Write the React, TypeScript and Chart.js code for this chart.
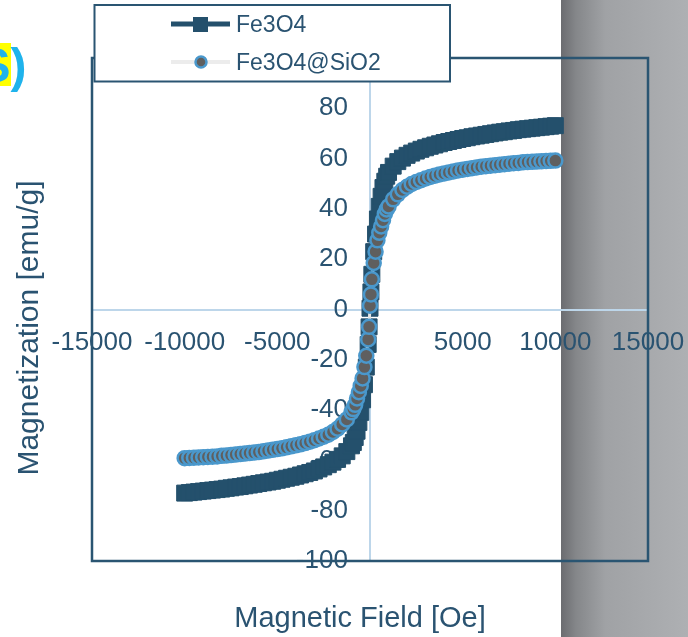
import React, { useEffect, useRef } from "react";
import { Chart, registerables } from "chart.js";

Chart.register(...registerables);

// ---------- data ----------
const fieldOe = [
  -10000, -9750, -9500, -9250, -9000, -8750, -8500, -8250, -8000, -7750,
  -7500, -7250, -7000, -6750, -6500, -6250, -6000, -5750, -5500, -5250,
  -5000, -4750, -4500, -4250, -4000, -3750, -3500, -3250, -3000, -2750,
  -2500, -2250, -2000, -1750, -1500, -1250, -1000, -900, -800, -700,
  -600, -500, -400, -300, -200, -100, -50,
  0,
  50, 100, 200, 300, 400, 500, 600, 700, 800, 900,
  1000, 1250, 1500, 1750, 2000, 2250, 2500, 2750, 3000, 3250,
  3500, 3750, 4000, 4250, 4500, 4750, 5000, 5250, 5500, 5750,
  6000, 6250, 6500, 6750, 7000, 7250, 7500, 7750, 8000, 8250,
  8500, 8750, 9000, 9250, 9500, 9750, 10000,
];

const fe3o4 = [
  -73.0, -72.8, -72.6, -72.4, -72.2, -72.0, -71.8, -71.6, -71.4, -71.1,
  -70.9, -70.6, -70.4, -70.1, -69.8, -69.5, -69.2, -68.9, -68.6, -68.3,
  -67.9, -67.5, -67.1, -66.7, -66.3, -65.8, -65.3, -64.8, -64.2, -63.4,
  -62.6, -61.7, -60.7, -59.6, -58.2, -56.5, -54.2, -52.9, -50.9, -48.4,
  -44.9, -40.9, -35.9, -29.9, -22.9, -13.9, -6.9,
  0.5,
  7, 14, 23, 30, 36, 41, 45, 48.5, 51, 53,
  54.5, 57, 58.8, 60.2, 61.3, 62.2, 63, 63.7, 64.3, 64.9,
  65.4, 65.9, 66.4, 66.8, 67.2, 67.6, 68, 68.3, 68.7, 69,
  69.3, 69.6, 69.9, 70.2, 70.5, 70.7, 71, 71.2, 71.5, 71.7,
  71.9, 72.1, 72.3, 72.5, 72.7, 72.9, 73.1,
];

const fe3o4SiO2 = [
  -59.1, -59.0, -58.9, -58.8, -58.7, -58.6, -58.5, -58.4, -58.2, -58.1,
  -57.9, -57.7, -57.5, -57.3, -57.1, -56.9, -56.7, -56.4, -56.1, -55.8,
  -55.5, -55.2, -54.8, -54.4, -54.0, -53.6, -53.1, -52.6, -52.0, -51.3,
  -50.6, -49.8, -48.7, -47.4, -45.7, -43.7, -40.9, -39.6, -37.9, -35.4,
  -32.9, -30.4, -27.4, -22.9, -18.4, -11.9, -6.9,
  1.5,
  6, 12, 18.5, 23, 27.5, 30.5, 33, 35.5, 38, 39.8,
  41, 43.8, 45.8, 47.5, 48.8, 49.9, 50.7, 51.4, 52.1, 52.7,
  53.2, 53.7, 54.1, 54.5, 54.9, 55.3, 55.6, 55.9, 56.2, 56.5,
  56.8, 57.0, 57.2, 57.4, 57.6, 57.8, 58.0, 58.2, 58.3, 58.5,
  58.6, 58.7, 58.8, 58.9, 59.0, 59.1, 59.2,
];

const seriesNames = ["Fe3O4", "Fe3O4@SiO2"];
const xTicks = [-15000, -10000, -5000, 0, 5000, 10000, 15000];
const yTicks = [-100, -80, -60, -40, -20, 0, 20, 40, 60, 80, 100];
const xTitle = "Magnetic Field [Oe]";
const yTitle = "Magnetization [emu/g]";
const panelLabel = "S)";

// ---------- styles ----------
const FONT = '"Liberation Sans", Arial, sans-serif';
const TEXT = "#2a5371";
const DARK = "#24506c";
const BOX = "#2a5572";
const AXIS_LIGHT = "#bdd6ea";
const CIRCLE_FILL = "#5f5f5f";
const CIRCLE_EDGE = "#4a98cc";
const SIO2_LINE = "#e4e4e4";

const decorPlugin = {
  id: "decor",
  beforeDraw(chart: any) {
    const { ctx, width, height } = chart;
    ctx.save();
    ctx.fillStyle = "#ffffff";
    ctx.fillRect(0, 0, width, height);
    const gx = 561;
    const g = ctx.createLinearGradient(gx, 0, width, 0);
    g.addColorStop(0, "#6b6c70");
    g.addColorStop(0.12, "#85878a");
    g.addColorStop(0.35, "#a0a2a5");
    g.addColorStop(1, "#aeb0b3");
    ctx.fillStyle = g;
    ctx.fillRect(gx, 0, width - gx, height);
    ctx.restore();
  },
  afterDraw(chart: any) {
    const { ctx, chartArea: a } = chart;
    ctx.save();
    // plot frame
    ctx.strokeStyle = BOX;
    ctx.lineWidth = 2.5;
    ctx.strokeRect(a.left, a.top, a.right - a.left, a.bottom - a.top);

    // axis titles
    ctx.fillStyle = TEXT;
    ctx.font = `29px ${FONT}`;
    ctx.textAlign = "center";
    ctx.textBaseline = "alphabetic";
    ctx.fillText(xTitle, 360, 627);
    ctx.save();
    ctx.translate(38, 328);
    ctx.rotate(-Math.PI / 2);
    ctx.font = `30px ${FONT}`;
    ctx.fillText(yTitle, 0, 0);
    ctx.restore();

    // legend
    ctx.fillStyle = "#ffffff";
    ctx.fillRect(94.5, 5, 355.5, 76.5);
    ctx.strokeStyle = BOX;
    ctx.lineWidth = 2;
    ctx.strokeRect(94.5, 5, 355.5, 76.5);
    // entry 1
    ctx.strokeStyle = DARK;
    ctx.lineWidth = 5;
    ctx.beginPath();
    ctx.moveTo(171, 24);
    ctx.lineTo(230, 24);
    ctx.stroke();
    ctx.fillStyle = DARK;
    ctx.fillRect(193, 17, 15, 15);
    // entry 2
    ctx.strokeStyle = "#ececec";
    ctx.lineWidth = 4;
    ctx.beginPath();
    ctx.moveTo(171, 62);
    ctx.lineTo(230, 62);
    ctx.stroke();
    ctx.beginPath();
    ctx.arc(201, 62, 5.5, 0, Math.PI * 2);
    ctx.fillStyle = CIRCLE_FILL;
    ctx.fill();
    ctx.strokeStyle = CIRCLE_EDGE;
    ctx.lineWidth = 2.5;
    ctx.stroke();
    ctx.fillStyle = TEXT;
    ctx.font = `23px ${FONT}`;
    ctx.textAlign = "left";
    ctx.fillText(seriesNames[0], 236, 32);
    ctx.fillText(seriesNames[1], 236, 70);

    // cut-off panel label
    ctx.fillStyle = "#ffff00";
    ctx.fillRect(0, 43, 11, 43);
    ctx.font = `bold 48px ${FONT}`;
    ctx.fillStyle = "#1fb3ec";
    const sw = ctx.measureText(panelLabel[0]).width;
    ctx.fillText(panelLabel, 10.5 - sw, 82);
    ctx.restore();
  },
};

const noPad = (s: any) => {
  s.paddingLeft = 0;
  s.paddingRight = 0;
  s.paddingTop = 0;
  s.paddingBottom = 0;
};

export default function App() {
  const ref = useRef<HTMLCanvasElement | null>(null);

  useEffect(() => {
    if (!ref.current) return;
    Chart.defaults.font.family = FONT;
    const toPts = (ys: number[]) => fieldOe.map((x, i) => ({ x, y: ys[i] }));
    const chart = new Chart(ref.current, {
      type: "line",
      data: {
        datasets: [
          {
            label: seriesNames[0],
            data: toPts(fe3o4),
            borderColor: DARK,
            backgroundColor: DARK,
            borderWidth: 3,
            pointStyle: "rect",
            pointRadius: 11.3,
            pointBackgroundColor: DARK,
            pointBorderColor: DARK,
            pointBorderWidth: 1,
            tension: 0,
            order: 1,
          },
          {
            label: seriesNames[1],
            data: toPts(fe3o4SiO2),
            borderColor: SIO2_LINE,
            backgroundColor: CIRCLE_FILL,
            borderWidth: 3,
            pointStyle: "circle",
            pointRadius: 7,
            pointBackgroundColor: CIRCLE_FILL,
            pointBorderColor: CIRCLE_EDGE,
            pointBorderWidth: 2.5,
            tension: 0,
            order: 0,
          },
        ],
      },
      options: {
        animation: false,
        responsive: false,
        devicePixelRatio: 1,
        events: [],
        layout: { padding: { left: 92, right: 40, top: 58, bottom: 76 } },
        plugins: { legend: { display: false }, tooltip: { enabled: false } },
        scales: {
          x: {
            type: "linear",
            min: -15000,
            max: 15000,
            position: "center",
            afterBuildTicks: (s: any) => {
              s.ticks = xTicks.map((v) => ({ value: v }));
            },
            afterFit: noPad,
            grid: { display: false, drawTicks: false },
            border: { display: true, color: AXIS_LIGHT, width: 2 },
            ticks: {
              padding: 18,
              color: TEXT,
              font: { size: 26, family: FONT },
              maxRotation: 0,
              autoSkip: false,
              callback: (v: any) => String(v),
            },
          },
          y: {
            type: "linear",
            min: -100,
            max: 100,
            position: "center",
            afterBuildTicks: (s: any) => {
              s.ticks = yTicks.map((v) => ({ value: v }));
            },
            afterFit: noPad,
            grid: { display: false, drawTicks: false },
            border: { display: true, color: AXIS_LIGHT, width: 2 },
            ticks: {
              padding: 22,
              color: TEXT,
              font: { size: 26, family: FONT },
              autoSkip: false,
              callback: (v: any) => String(v),
            },
          },
        },
      },
      plugins: [decorPlugin],
    });
    return () => chart.destroy();
  }, []);

  return (
    <div style={{ position: "fixed", left: 0, top: 0, width: 688, height: 637 }}>
      <canvas ref={ref} width={688} height={637} style={{ display: "block", width: 688, height: 637 }} />
    </div>
  );
}
